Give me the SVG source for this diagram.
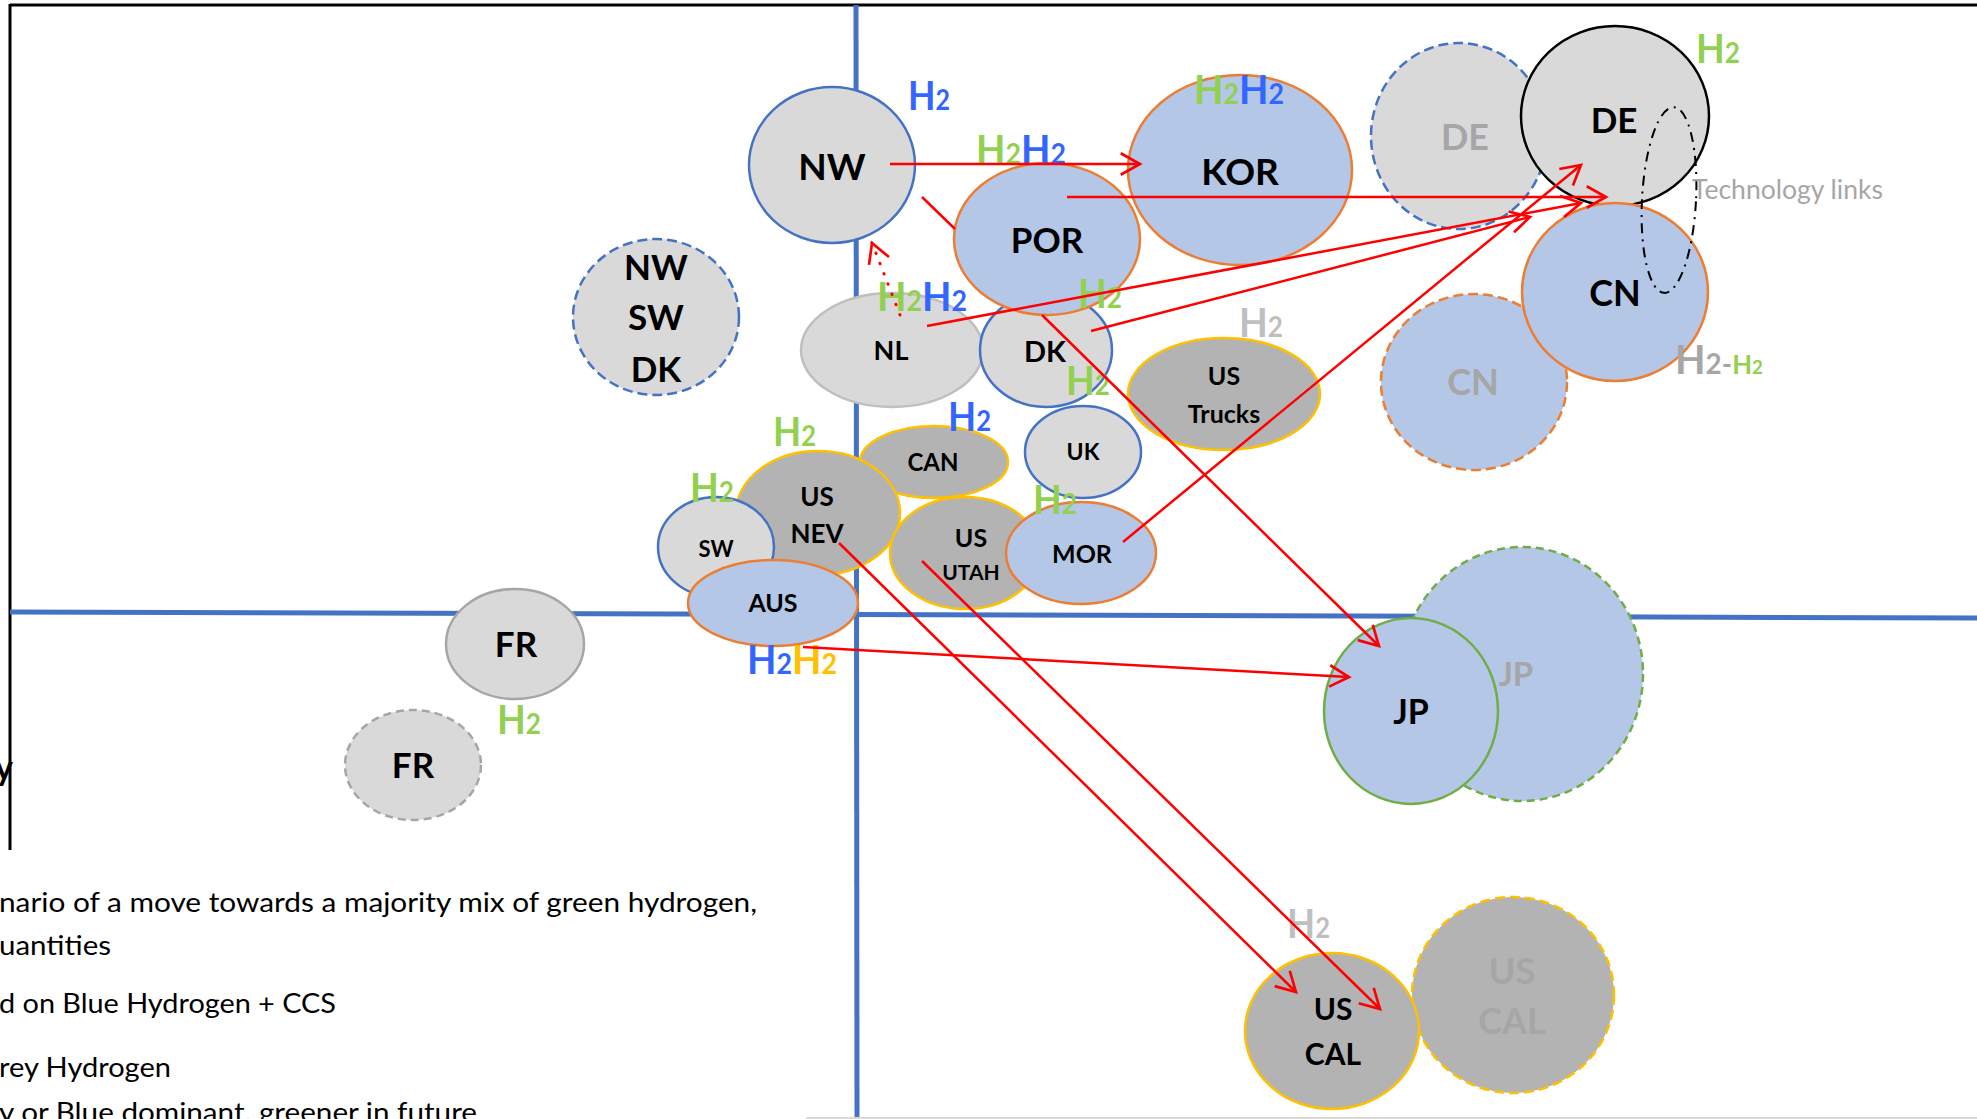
<svg xmlns="http://www.w3.org/2000/svg" width="1977" height="1119" viewBox="0 0 1977 1119">
<defs>
<style>
text{font-family:Lato,"Liberation Sans",sans-serif;}
.lbl{font-weight:bold;text-anchor:middle;fill:#000;}
.ghost{font-weight:bold;text-anchor:middle;fill:#A6A6A6;}
.h2{font-weight:bold;font-size:40px;}
.s{font-size:28px;}
.g{fill:#92D050;}
.bl{fill:#3366FF;}
.gr{fill:#BFBFBF;}
.dg{fill:#A6A6A6;}
.y{fill:#FFC000;}
.body{font-size:27px;fill:#000;}
.lg{fill:#D9D9D9;}
.dk{fill:#B3B3B3;}
.lb{fill:#B4C7E7;}
.sb{stroke:#4472C4;stroke-width:2.5;}
.so{stroke:#ED7D31;stroke-width:2.5;}
.sy{stroke:#FFC000;stroke-width:2.5;}
.sg{stroke:#70AD47;stroke-width:2.5;}
.sgr{stroke:#A6A6A6;stroke-width:2.5;}
.dash{stroke-dasharray:10 5;}
</style>
<marker id="ah" markerUnits="userSpaceOnUse" markerWidth="30" markerHeight="30" viewBox="-22 -14 26 28" refX="0" refY="0" orient="auto" overflow="visible">
<path d="M-18,-10 L0,0 L-18,10" fill="none" stroke="#FF0000" stroke-width="2.5"/>
</marker>
</defs>
<rect x="0" y="0" width="1977" height="1119" fill="#FFFFFF"/>

<g id="frame" fill="none">
<line x1="10" y1="5" x2="1977" y2="5" stroke="#000" stroke-width="3"/>
<line x1="10" y1="4" x2="10" y2="850" stroke="#000" stroke-width="3"/>
<line x1="856" y1="5" x2="857" y2="1119" stroke="#4472C4" stroke-width="5"/>
<line x1="10" y1="612" x2="1977" y2="618" stroke="#4472C4" stroke-width="5"/>
<line x1="806" y1="1118" x2="1977" y2="1118" stroke="#D9D9D9" stroke-width="2"/>
</g>

<g id="node-nwswdk"><ellipse cx="656" cy="317" rx="83" ry="78" class="lg sb dash"/>
<text class="lbl" font-size="35" x="656" y="280">NW</text><text class="lbl" font-size="35" x="656" y="330">SW</text><text class="lbl" font-size="35" x="656" y="382">DK</text></g>
<g id="node-fr"><ellipse cx="515" cy="644" rx="69" ry="55" class="lg sgr"/><text class="lbl" font-size="35" x="516" y="657">FR</text></g>
<g id="node-fr-future"><ellipse cx="413" cy="765" rx="68" ry="55" class="lg sgr" stroke-dasharray="8 5"/><text class="lbl" font-size="35" x="413" y="778">FR</text></g>
<g id="node-nw"><ellipse cx="832" cy="165" rx="83" ry="78" class="lg sb"/><text class="lbl" font-size="37" x="832" y="180">NW</text></g>
<g id="node-kor"><ellipse cx="1240" cy="170" rx="112" ry="95" class="lb so"/><text class="lbl" font-size="37" x="1240" y="185">KOR</text></g>
<g id="node-nl"><ellipse cx="892" cy="350" rx="91" ry="57" class="lg" stroke="#BFBFBF" stroke-width="2.5"/><text class="lbl" font-size="27" x="891" y="360">NL</text></g>
<g id="node-dk"><ellipse cx="1046" cy="350" rx="66" ry="57" class="lg sb"/><text class="lbl" font-size="29" x="1045" y="362">DK</text></g>
<g id="node-por"><ellipse cx="1047" cy="239" rx="93" ry="76" class="lb so"/><text class="lbl" font-size="35" x="1047" y="253">POR</text></g>
<g id="node-ustrucks"><ellipse cx="1224" cy="394" rx="96" ry="56" class="dk sy"/><text class="lbl" font-size="25" x="1224" y="385">US</text><text class="lbl" font-size="25" x="1224" y="423">Trucks</text></g>
<g id="node-can"><ellipse cx="934" cy="462" rx="74" ry="36" class="dk sy"/><text class="lbl" font-size="24" x="933" y="471">CAN</text></g>
<g id="node-uk"><ellipse cx="1083" cy="452" rx="58" ry="46" class="lg sb"/><text class="lbl" font-size="23" x="1083" y="460">UK</text></g>
<g id="node-usnev"><ellipse cx="818" cy="513" rx="82" ry="62" class="dk sy"/><text class="lbl" font-size="26" x="817" y="506">US</text><text class="lbl" font-size="26" x="817" y="543">NEV</text></g>
<g id="node-sw"><ellipse cx="716" cy="547" rx="58" ry="50" class="lg sb"/><text class="lbl" font-size="22" x="716" y="557">SW</text></g>
<g id="node-aus"><ellipse cx="773" cy="603" rx="85" ry="43" class="lb so"/><text class="lbl" font-size="25" x="773" y="612">AUS</text></g>
<g id="node-usutah"><ellipse cx="965" cy="553" rx="75" ry="56" class="dk sy"/><text class="lbl" font-size="25" x="971" y="547">US</text><text class="lbl" font-size="21" x="971" y="580">UTAH</text></g>
<g id="node-mor"><ellipse cx="1081" cy="553" rx="75" ry="51" class="lb so"/><text class="lbl" font-size="25" x="1082" y="563">MOR</text></g>
<g id="node-de-future"><ellipse cx="1459" cy="136" rx="88" ry="93" class="lg sb dash"/><text class="ghost" font-size="36" x="1465" y="150">DE</text></g>
<g id="node-de"><ellipse cx="1615" cy="116" rx="94" ry="90" class="lg" stroke="#000" stroke-width="2.5"/><text class="lbl" font-size="35" x="1614" y="133">DE</text></g>
<g id="node-cn-future"><ellipse cx="1474" cy="382" rx="93" ry="88" class="lb so dash"/><text class="ghost" font-size="36" x="1473" y="395">CN</text></g>
<g id="node-cn"><ellipse cx="1615" cy="292" rx="93" ry="89" class="lb so"/><text class="lbl" font-size="36" x="1615" y="306">CN</text></g>
<g id="node-jp-future"><ellipse cx="1522" cy="674" rx="121" ry="127" class="lb sg" stroke-dasharray="8 5"/><text class="ghost" font-size="33" x="1516" y="686">JP</text></g>
<g id="node-jp"><ellipse cx="1411" cy="711" rx="87" ry="93" class="lb sg"/><text class="lbl" font-size="34" x="1411" y="724">JP</text></g>
<g id="node-uscal-future"><ellipse cx="1513" cy="995" rx="101" ry="98" class="dk sy dash"/><text class="ghost" font-size="36" x="1512" y="984">US</text><text class="ghost" font-size="36" x="1512" y="1034">CAL</text></g>
<g id="node-uscal"><ellipse cx="1332" cy="1031" rx="87" ry="78" class="dk sy"/><text class="lbl" font-size="30" x="1333" y="1020">US</text><text class="lbl" font-size="30" x="1333" y="1065">CAL</text></g>
<g id="node-techlinks"><ellipse cx="1669" cy="200" rx="27" ry="93" transform="rotate(3 1669 200)" fill="none" stroke="#000" stroke-width="2" stroke-dasharray="10 6 2 6"/>
<text x="1692" y="199" font-size="26" fill="#A6A6A6" textLength="191" lengthAdjust="spacingAndGlyphs">Technology links</text></g>

<g id="labels">
<text class="h2 bl" x="908" y="110" textLength="42" lengthAdjust="spacingAndGlyphs">H<tspan class="s">2</tspan></text>
<text class="h2" x="1194" y="104" textLength="90" lengthAdjust="spacingAndGlyphs"><tspan class="g">H<tspan class="s">2</tspan></tspan><tspan class="bl">H<tspan class="s">2</tspan></tspan></text>
<text class="h2" x="976" y="164" textLength="90" lengthAdjust="spacingAndGlyphs"><tspan class="g">H<tspan class="s">2</tspan></tspan><tspan class="bl">H<tspan class="s">2</tspan></tspan></text>
<text class="h2" x="877" y="311" textLength="90" lengthAdjust="spacingAndGlyphs"><tspan class="g">H<tspan class="s">2</tspan></tspan><tspan class="bl">H<tspan class="s">2</tspan></tspan></text>
<text class="h2 g" x="1078" y="308" textLength="44" lengthAdjust="spacingAndGlyphs">H<tspan class="s">2</tspan></text>
<text class="h2 g" x="1066" y="395" textLength="44" lengthAdjust="spacingAndGlyphs">H<tspan class="s">2</tspan></text>
<text class="h2 gr" x="1239" y="337" textLength="44" lengthAdjust="spacingAndGlyphs">H<tspan class="s">2</tspan></text>
<text class="h2 bl" x="948" y="431" textLength="43" lengthAdjust="spacingAndGlyphs">H<tspan class="s">2</tspan></text>
<text class="h2 g" x="773" y="446" textLength="43" lengthAdjust="spacingAndGlyphs">H<tspan class="s">2</tspan></text>
<text class="h2 g" x="690" y="502" textLength="44" lengthAdjust="spacingAndGlyphs">H<tspan class="s">2</tspan></text>
<text class="h2 g" x="1033" y="514" textLength="44" lengthAdjust="spacingAndGlyphs">H<tspan class="s">2</tspan></text>
<text class="h2" x="747" y="674" textLength="90" lengthAdjust="spacingAndGlyphs"><tspan class="bl">H<tspan class="s">2</tspan></tspan><tspan class="y">H<tspan class="s">2</tspan></tspan></text>
<text class="h2 g" x="497" y="734" textLength="44" lengthAdjust="spacingAndGlyphs">H<tspan class="s">2</tspan></text>
<text class="h2 g" x="1696" y="63" textLength="44" lengthAdjust="spacingAndGlyphs">H<tspan class="s">2</tspan></text>
<text class="h2" x="1675" y="374" textLength="88" lengthAdjust="spacingAndGlyphs"><tspan class="dg">H<tspan class="s">2-</tspan></tspan><tspan class="g" font-size="26">H<tspan font-size="19">2</tspan></tspan></text>
<text class="h2 gr" x="1287" y="938" textLength="43" lengthAdjust="spacingAndGlyphs">H<tspan class="s">2</tspan></text>
</g>

<g id="connectors" fill="none" stroke="#FF0000" stroke-width="2.5">
<line x1="890" y1="164" x2="1140" y2="164" marker-end="url(#ah)"/>
<line x1="1067" y1="197" x2="1606" y2="197" marker-end="url(#ah)"/>
<path d="M922,197 L955,229 M1042,315 L1379,646" marker-end="url(#ah)"/>
<line x1="803" y1="647" x2="1349" y2="677" marker-end="url(#ah)"/>
<line x1="839" y1="543" x2="1296" y2="992" marker-end="url(#ah)"/>
<line x1="922" y1="561" x2="1380" y2="1009" marker-end="url(#ah)"/>
<line x1="1123" y1="542" x2="1581" y2="165" marker-end="url(#ah)"/>
<line x1="927" y1="326" x2="1581" y2="203" marker-end="url(#ah)"/>
<line x1="1091" y1="331" x2="1530" y2="217" marker-end="url(#ah)"/>
<line x1="900" y1="315" x2="872" y2="243" stroke-width="3" stroke-linecap="round" stroke-dasharray="0.5 10.5" marker-end="url(#ah)"/>
</g>

<g id="notes">
<text x="13" y="780" style="font-size:34px;font-weight:bold;fill:#000" text-anchor="end">y</text>
<text class="body" x="-1" y="912" textLength="758" lengthAdjust="spacingAndGlyphs">nario of a move towards a majority mix of green hydrogen,</text>
<text class="body" x="-1" y="955" textLength="112" lengthAdjust="spacingAndGlyphs">uantities</text>
<text class="body" x="-1" y="1013" textLength="337" lengthAdjust="spacingAndGlyphs">d on Blue Hydrogen + CCS</text>
<text class="body" x="-1" y="1077" textLength="172" lengthAdjust="spacingAndGlyphs">rey Hydrogen</text>
<text class="body" x="-1" y="1122" textLength="478" lengthAdjust="spacingAndGlyphs">y or Blue dominant, greener in future</text>
</g>
</svg>
